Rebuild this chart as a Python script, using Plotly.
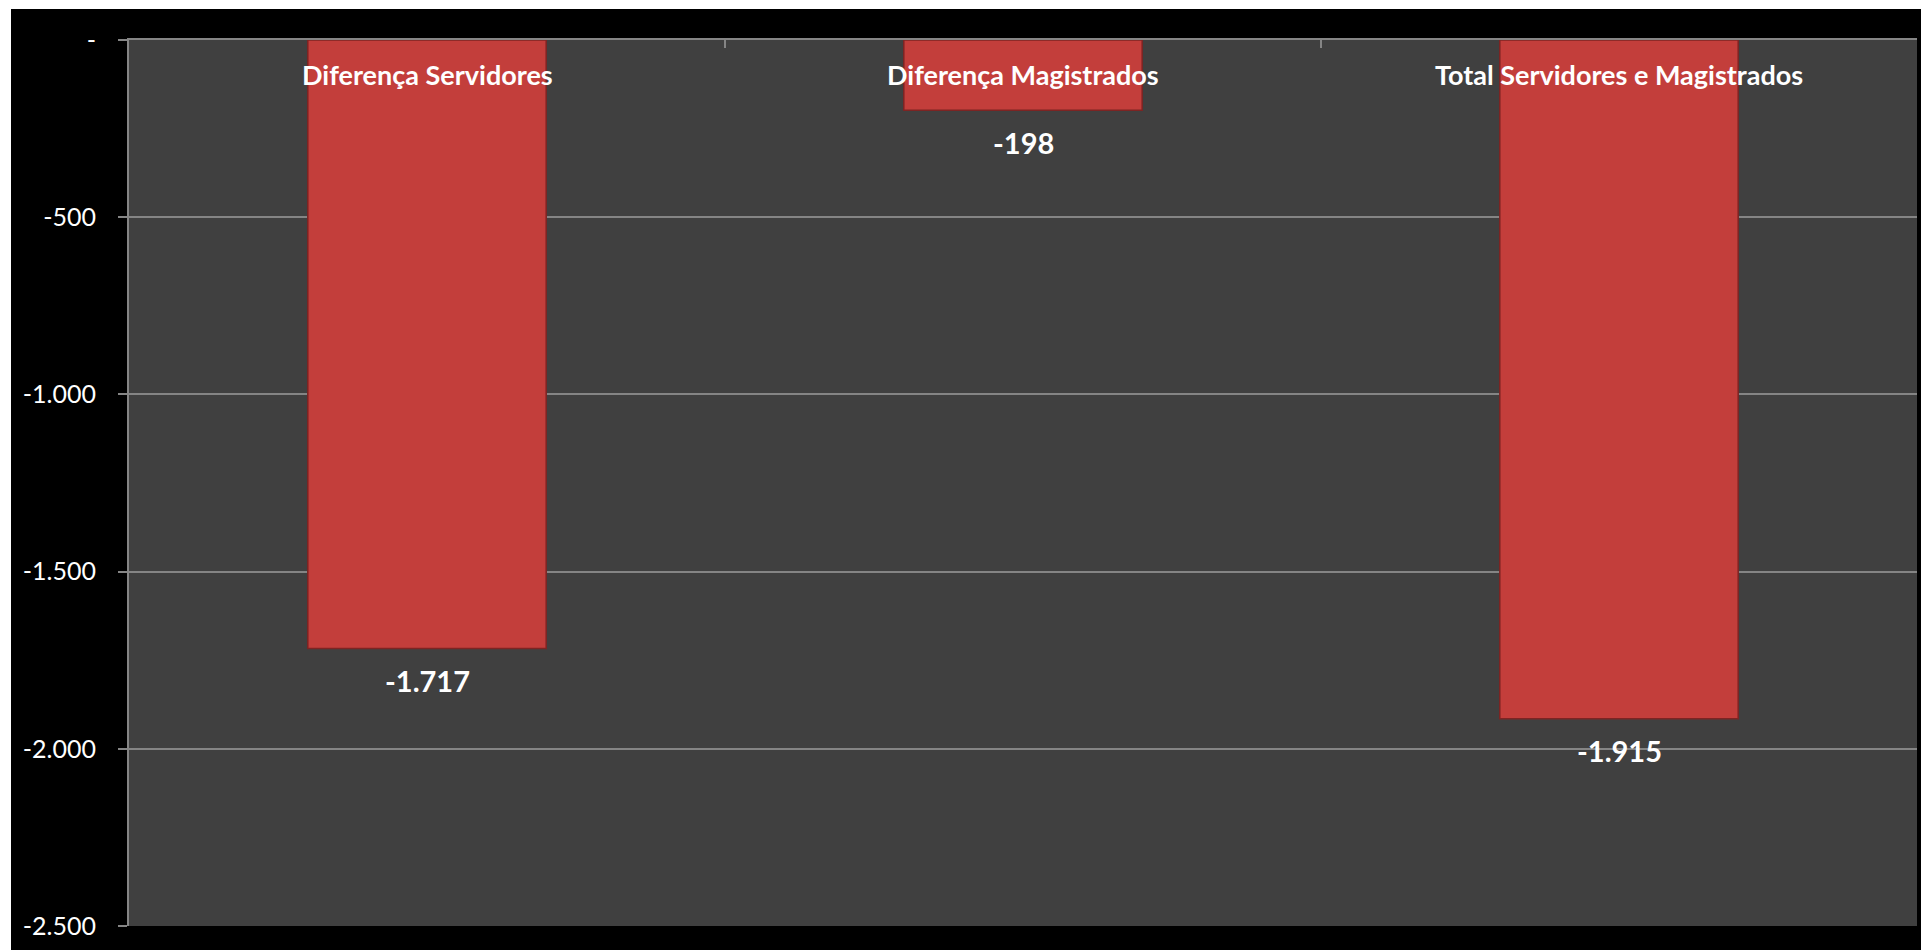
"""
Description
-----------
Bar chart of the staff differences (servidores / magistrados).
"""

#%% IMPORTS

import plotly.graph_objects as go

#%% DATA

categories = ['Diferença Servidores', 'Diferença Magistrados', 'Total Servidores e Magistrados']
values = [-1717, -198, -1915]

y_tickvals = [0, -500, -1000, -1500, -2000, -2500]
y_ticktext = ['-', '-500', '-1.000', '-1.500', '-2.000', '-2.500']

#%% LAYOUT CONSTANTS

# the page puts the figure 8px in from the top/left corner
W, H = 1929, 950
M_L, M_R, M_T, M_B = 121, 20, 32, 32
plot_w = W - M_L - M_R
plot_h = H - M_T - M_B

font_name = 'Lato'
grid_col = '#858585'

#%% FIGURE

fig = go.Figure()

fig.add_trace(go.Bar(
    x=categories,
    y=values,
    marker=dict(color='#c33e3b', line=dict(color='#7d2423', width=1.5)),
    hovertemplate='<b>%{x}</b><br>%{y:,.0f}<extra></extra>',
))

# category names inside the plot, just under the top axis
for cat in categories:
    fig.add_annotation(
        x=cat, y=0, yref='y', yanchor='middle', yshift=-34,
        text=f'<b>{cat}</b>', showarrow=False,
        font=dict(family=font_name, size=27, color='white'),
    )

# value labels below the bar ends
for cat, v in zip(categories, values):
    fig.add_annotation(
        x=cat, y=v, yanchor='middle', yshift=-32,
        text='<b>' + f'{v:,}'.replace(',', '.') + '</b>', showarrow=False,
        font=dict(family=font_name, size=29, color='white'),
    )

# thin extra white strips so the black frame starts where the original does
def px_x(p):
    return (p - M_L) / plot_w

def px_y(p):
    return (H - M_B - p) / plot_h

fig.add_shape(type='rect', xref='paper', yref='paper',
              x0=px_x(0), x1=px_x(3), y0=px_y(H), y1=px_y(0),
              fillcolor='white', line_width=0, layer='above')
fig.add_shape(type='rect', xref='paper', yref='paper',
              x0=px_x(0), x1=px_x(W), y0=px_y(1), y1=px_y(0),
              fillcolor='white', line_width=0, layer='above')

fig.update_layout(
    width=W,
    height=H,
    margin=dict(l=M_L, r=M_R, t=M_T, b=M_B, pad=0),
    paper_bgcolor='black',
    plot_bgcolor='#404040',
    bargap=0.6,
    showlegend=False,
    font=dict(family=font_name, color='white'),
    xaxis=dict(
        side='top',
        showticklabels=False,
        showgrid=False,
        showline=True,
        linecolor=grid_col,
        linewidth=2,
        ticks='inside',
        tickson='boundaries',
        ticklen=8,
        tickcolor=grid_col,
        tickwidth=2,
    ),
    yaxis=dict(
        range=[-2500, 0],
        tickvals=y_tickvals,
        ticktext=y_ticktext,
        tickfont=dict(family=font_name, size=25, color='white'),
        showgrid=True,
        gridcolor=grid_col,
        gridwidth=2,
        zeroline=False,
        showline=True,
        linecolor=grid_col,
        linewidth=2,
        ticks='outside',
        ticklen=9,
        tickcolor=grid_col,
        tickwidth=2,
        ticklabelstandoff=17,
    ),
)

fig.write_html('out.html')
